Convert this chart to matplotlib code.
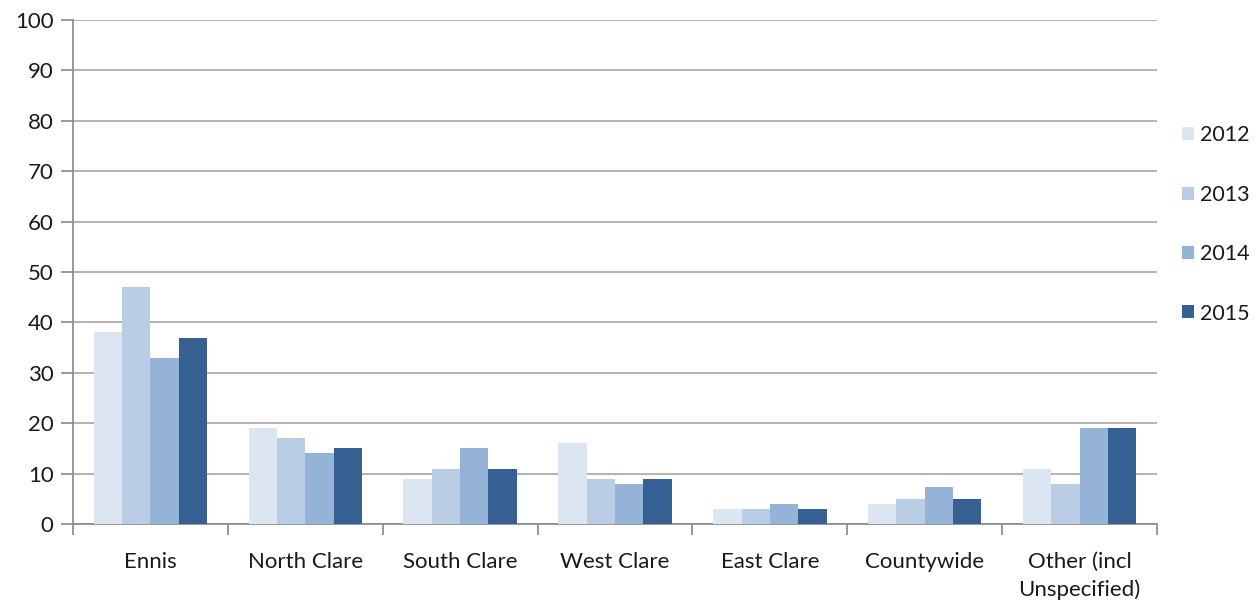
import matplotlib
matplotlib.use("Agg")
import matplotlib.pyplot as plt
import numpy as np

categories = ["Ennis", "North Clare", "South Clare", "West Clare", "East Clare",
              "Countywide", "Other (incl\nUnspecified)"]
years = ["2012", "2013", "2014", "2015"]
v2012 = [38, 19, 9, 16, 3, 4, 11]
v2013 = [47, 17, 11, 9, 3, 5, 8]
v2014 = [33, 14, 15, 8, 4, 7.3, 19]
v2015 = [37, 15, 11, 9, 3, 5, 19]
series = [v2012, v2013, v2014, v2015]
colors = ["#DCE6F2", "#B9CDE5", "#95B3D7", "#376092"]
yticks = [0, 10, 20, 30, 40, 50, 60, 70, 80, 90, 100]

plt.rcParams['font.family'] = ['Lato', 'DejaVu Sans']
fig = plt.figure(figsize=(12.57, 6.06), dpi=100)
ax = fig.add_axes([73/1257, 1 - 524/606, (1157-73)/1257, (524-20)/606])

n = len(categories)
x = np.arange(n)
bw = 0.183
for i, (vals, c, lab) in enumerate(zip(series, colors, years)):
    ax.bar(x + (i - 1.5) * bw, vals, width=bw, color=c, label=lab, zorder=3)

fs = 16
ax.set_xlim(-0.5, n - 0.5)
ax.set_ylim(0, 100)
ax.set_yticks(yticks)
ax.set_yticklabels([str(t) for t in yticks], fontsize=fs, color="#1a1a1a")
ax.yaxis.grid(True, color="#A6A6A6", linewidth=1.2, zorder=0)
ax.set_axisbelow(True)

ax.set_xticks(x)
ax.set_xticklabels(categories, fontsize=fs, color="#1a1a1a", linespacing=1.45)
ax.tick_params(axis='x', length=0, pad=20)
ax.set_xticks(np.arange(-0.5, n, 1.0), minor=True)
ax.tick_params(axis='x', which='minor', length=8, color="#888888", width=1.2)
ax.tick_params(axis='y', length=9, color="#888888", width=1.2, pad=5)

for s in ['top', 'right']:
    ax.spines[s].set_visible(False)
for s in ['left', 'bottom']:
    ax.spines[s].set_color("#888888")
    ax.spines[s].set_linewidth(1.2)

leg = ax.legend(loc='center left', bbox_to_anchor=((1182-73)/1084, (524-224.5)/504),
                frameon=False, fontsize=15.5, handlelength=0.55, handleheight=0.55,
                handletextpad=0.3, labelspacing=1.83, borderaxespad=0, borderpad=0)
for t in leg.get_texts():
    t.set_color("#1a1a1a")

fig.savefig("out.png", dpi=100)
